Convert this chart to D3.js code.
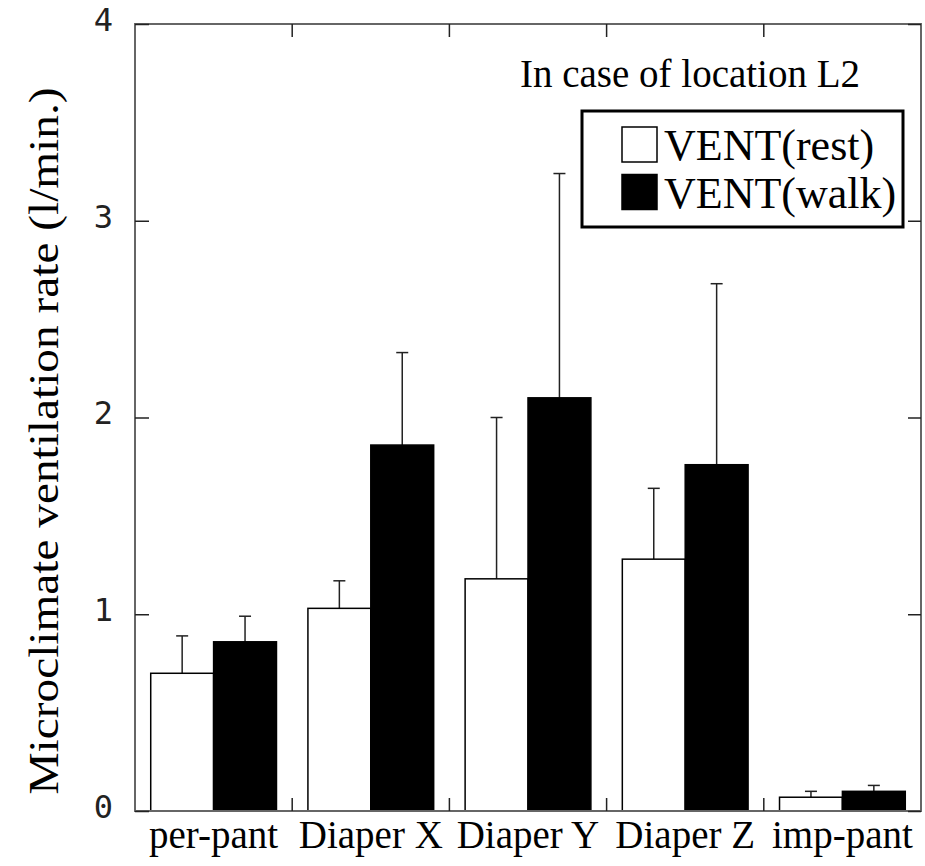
<!DOCTYPE html>
<html>
<head>
<meta charset="utf-8">
<script src="https://cdn.jsdelivr.net/npm/d3@7"></script>
<style>
  body { margin: 0; background: #fff; }
  svg { display: block; }
</style>
</head>
<body>
<svg id="chart" width="925" height="866"></svg>
<script>
// values
var categories = ["per-pant", "Diaper X", "Diaper Y", "Diaper Z", "imp-pant"];
var seriesNames = ["VENT(rest)", "VENT(walk)"];
var restValues = [0.70, 1.03, 1.18, 1.28, 0.07];
var restErrors = [0.19, 0.14, 0.82, 0.36, 0.03];
var walkValues = [0.86, 1.86, 2.10, 1.76, 0.10];
var walkErrors = [0.13, 0.47, 1.14, 0.92, 0.03];
var yTicks = [0, 1, 2, 3, 4];

var svg = d3.select("#chart");
const plotLeft = 135, plotRight = 921, plotTop = 24, plotBottom = 811;

var x = d3.scaleBand().domain(categories).range([plotLeft, plotRight]).padding(0);
var xInner = d3.scaleBand().domain(seriesNames).range([0, x.bandwidth()])
  .paddingInner(0).paddingOuter(0.25);
var y = d3.scaleLinear().domain([0, 4]).range([plotBottom, plotTop]);

var fills = { "VENT(rest)": "#fff", "VENT(walk)": "#000" };

var rows = [];
categories.forEach(function (c, i) {
  rows.push({ cat: c, s: seriesNames[0], v: restValues[i], e: restErrors[i] });
  rows.push({ cat: c, s: seriesNames[1], v: walkValues[i], e: walkErrors[i] });
});

function barMid(d) {
  return x(d.cat) + xInner(d.s) + xInner.bandwidth() / 2;
}

// error bars (drawn first so bar tops sit over them)
var err = svg.append("g").attr("stroke", "#222").attr("stroke-width", 1.5);
err.selectAll("line.stem")
  .data(rows)
  .join("line")
  .attr("class", "stem")
  .attr("x1", barMid)
  .attr("x2", barMid)
  .attr("y1", (d) => y(d.v))
  .attr("y2", (d) => y(d.v + d.e));
err.selectAll("line.cap")
  .data(rows)
  .join("line")
  .attr("class", "cap")
  .attr("x1", (d) => barMid(d) - 6)
  .attr("x2", (d) => barMid(d) + 6)
  .attr("y1", (d) => y(d.v + d.e))
  .attr("y2", (d) => y(d.v + d.e));

// bars
svg.append("g")
  .selectAll("rect")
  .data(rows)
  .join("rect")
  .attr("x", (d) => x(d.cat) + xInner(d.s))
  .attr("y", (d) => y(d.v))
  .attr("width", xInner.bandwidth())
  .attr("height", (d) => y(0) - y(d.v))
  .attr("fill", (d) => fills[d.s])
  .attr("stroke", "#000")
  .attr("stroke-width", 1.5);

// frame
svg.append("rect")
  .attr("x", plotLeft).attr("y", plotTop)
  .attr("width", plotRight - plotLeft).attr("height", plotBottom - plotTop)
  .attr("fill", "none").attr("stroke", "#666").attr("stroke-width", 2);

// y axes (inward ticks)
var yAxis = svg.append("g")
  .attr("transform", "translate(" + plotLeft + ",0)")
  .call(d3.axisLeft(y).tickValues(yTicks).tickSize(-14).tickPadding(22).tickFormat(d3.format("d")));
yAxis.select(".domain").remove();
yAxis.selectAll(".tick line").attr("stroke", "#222").attr("stroke-width", 1.5);
yAxis.selectAll(".tick text")
  .attr("font-family", "'DejaVu Sans Mono', monospace")
  .attr("font-size", 32)
  .attr("font-weight", 300)
  .attr("dy", "0.2em")
  .attr("fill", "#222");

var yAxisR = svg.append("g")
  .attr("transform", "translate(" + plotRight + ",0)")
  .call(d3.axisRight(y).tickValues(yTicks).tickSize(-13).tickFormat(""));
yAxisR.select(".domain").remove();
yAxisR.selectAll(".tick line").attr("stroke", "#222").attr("stroke-width", 1.5);

// group boundary ticks, bottom and top
var bounds = categories.slice(1);
svg.append("g").selectAll("line")
  .data(bounds)
  .join("line")
  .attr("x1", (d) => x(d)).attr("x2", (d) => x(d))
  .attr("y1", plotBottom).attr("y2", plotBottom - 13)
  .attr("stroke", "#222").attr("stroke-width", 1.5);
svg.append("g").selectAll("line")
  .data(bounds)
  .join("line")
  .attr("x1", (d) => x(d)).attr("x2", (d) => x(d))
  .attr("y1", plotTop).attr("y2", plotTop + 13)
  .attr("stroke", "#222").attr("stroke-width", 1.5);

// category labels
svg.append("g").selectAll("text")
  .data(categories)
  .join("text")
  .attr("x", (d) => x(d) + x.bandwidth() / 2)
  .attr("y", 848)
  .attr("text-anchor", "middle")
  .attr("font-family", "'Liberation Serif', 'Times New Roman', serif")
  .attr("font-size", 39)
  .text((d) => d);

// y title
svg.append("text")
  .attr("transform", "translate(58,441) rotate(-90)")
  .attr("text-anchor", "middle")
  .attr("font-family", "'Liberation Serif', 'Times New Roman', serif")
  .attr("font-size", 42)
  .attr("textLength", 707)
  .attr("lengthAdjust", "spacingAndGlyphs")
  .text("Microclimate ventilation rate (l/min.)");

// annotation
svg.append("text")
  .attr("x", 520).attr("y", 87)
  .attr("font-family", "'Liberation Serif', 'Times New Roman', serif")
  .attr("font-size", 39)
  .text("In case of location L2");

// legend
var legend = svg.append("g");
legend.append("rect")
  .attr("x", 582).attr("y", 111).attr("width", 321).attr("height", 116)
  .attr("fill", "#fff").attr("stroke", "#000").attr("stroke-width", 3);
var item = legend.selectAll("g.item")
  .data(seriesNames)
  .join("g")
  .attr("class", "item")
  .attr("transform", (d, i) => "translate(622," + (127 + i * 47.5) + ")");
item.append("rect")
  .attr("width", 35).attr("height", 35)
  .attr("fill", (d) => fills[d])
  .attr("stroke", "#000").attr("stroke-width", 1.5);
item.append("text")
  .attr("x", 42).attr("y", 33)
  .attr("font-family", "'Liberation Serif', 'Times New Roman', serif")
  .attr("font-size", 44)
  .text((d) => d);
</script>
</body>
</html>
